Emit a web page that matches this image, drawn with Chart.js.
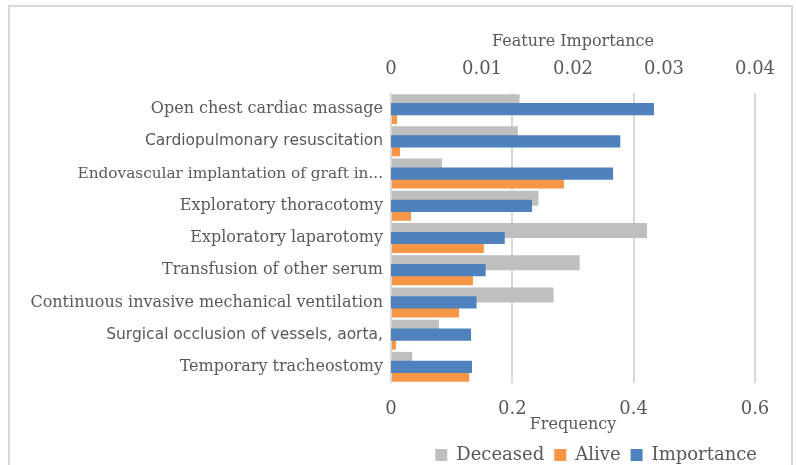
<!DOCTYPE html>
<html>
<head>
<meta charset="utf-8">
<script src="https://cdn.jsdelivr.net/npm/chart.js@4"></script>
<style>
  html, body { margin: 0; padding: 0; background: #ffffff; }
  #wrap { width: 796px; height: 465px; }
</style>
</head>
<body>
<div id="wrap"><canvas id="c" width="796" height="465"></canvas></div>
<script>
const categories = [
  "Open chest cardiac massage",
  "Cardiopulmonary resuscitation",
  "Endovascular implantation of graft in...",
  "Exploratory thoracotomy",
  "Exploratory laparotomy",
  "Transfusion of other serum",
  "Continuous invasive mechanical ventilation",
  "Surgical occlusion of vessels, aorta,",
  "Temporary tracheostomy"
];
const deceased   = [0.212, 0.209, 0.084, 0.243, 0.422, 0.311, 0.268, 0.079, 0.035];
const alive      = [0.010, 0.015, 0.285, 0.033, 0.153, 0.135, 0.112, 0.008, 0.129];
const importance = [0.0289, 0.0252, 0.0244, 0.0155, 0.0125, 0.0104, 0.0094, 0.0088, 0.0089];
const frequencyTicks  = [0, 0.2, 0.4, 0.6];
const importanceTicks = [0, 0.01, 0.02, 0.03, 0.04];

const TEXT = '#595959';
const SERIF = "'DejaVu Serif', 'Liberation Serif', serif";
const SANS = "'DejaVu Sans', sans-serif";

const borderPlugin = {
  id: 'outerBorder',
  afterLayout(chart) {
    if (chart.legend) {
      chart.legend.left += 12;
      chart.legend.right += 12;
    }
  },
  afterDraw(chart) {
    const ctx = chart.ctx;
    ctx.save();
    ctx.strokeStyle = '#D9D9D9';
    ctx.lineWidth = 2;
    ctx.strokeRect(9, 6, 783, 480);
    ctx.restore();
  }
};

new Chart(document.getElementById('c'), {
  type: 'bar',
  data: {
    labels: categories,
    datasets: [
      { label: 'Deceased', data: deceased, backgroundColor: '#BFBFBF', xAxisID: 'x',
        categoryPercentage: 0.93, barPercentage: 1.0, order: 1 },
      { label: 'Alive', data: alive, backgroundColor: '#F79646', xAxisID: 'x',
        categoryPercentage: 0.93, barPercentage: 1.0, order: 1 },
      { label: 'Importance', data: importance, backgroundColor: '#4F81BD', xAxisID: 'x2',
        grouped: false, categoryPercentage: 1.0, barPercentage: 0.38, order: 0 }
    ]
  },
  options: {
    indexAxis: 'y',
    responsive: false,
    animation: false,
    layout: { padding: { left: 0, right: 41, top: 0, bottom: -9 } },
    scales: {
      y: {
        type: 'category',
        position: 'left',
        grid: { display: false, drawTicks: false },
        border: { display: false },
        ticks: {
          color: TEXT,
          padding: 8,
          font: (ctx) => {
            const i = ctx.index;
            if (i === 1 || i === 7) return { family: SANS, size: 15.5 };
            if (i === 2) return { family: SERIF, size: 15.3 };
            return { family: SERIF, size: 16 };
          }
        },
        afterFit: (s) => { s.width = 391; }
      },
      x: {
        type: 'linear',
        position: 'bottom',
        min: 0, max: 0.6,
        afterBuildTicks: (s) => { s.ticks = frequencyTicks.map(v => ({ value: v })); },
        grid: { color: '#D9D9D9', lineWidth: 2, drawTicks: false },
        border: { display: false },
        ticks: { color: TEXT, padding: 16, font: { family: SERIF, size: 18 } },
        title: { display: true, text: 'Frequency', color: TEXT, font: { family: SERIF, size: 16 }, padding: { top: 0, bottom: 2 } },
        afterFit: (s) => { s.height = 53; }
      },
      x2: {
        type: 'linear',
        position: 'top',
        min: 0, max: 0.04,
        afterBuildTicks: (s) => { s.ticks = importanceTicks.map(v => ({ value: v })); },
        grid: { display: false, drawTicks: false },
        border: { display: false },
        ticks: { color: TEXT, padding: 13, font: { family: SERIF, size: 18 } },
        title: { display: true, text: 'Feature Importance', color: TEXT, font: { family: SERIF, size: 16 }, padding: { top: 32, bottom: 0 } },
        afterFit: (s) => { s.height = 93; }
      }
    },
    plugins: {
      tooltip: { enabled: false },
      legend: {
        position: 'bottom',
        align: 'end',
        fullSize: false,
        labels: {
          color: TEXT,
          font: { family: SERIF, size: 18 },
          boxWidth: 12,
          boxHeight: 12,
          padding: 10,
          sort: (a, b) => a.datasetIndex - b.datasetIndex
        }
      }
    }
  },
  plugins: [borderPlugin]
});
</script>
</body>
</html>
